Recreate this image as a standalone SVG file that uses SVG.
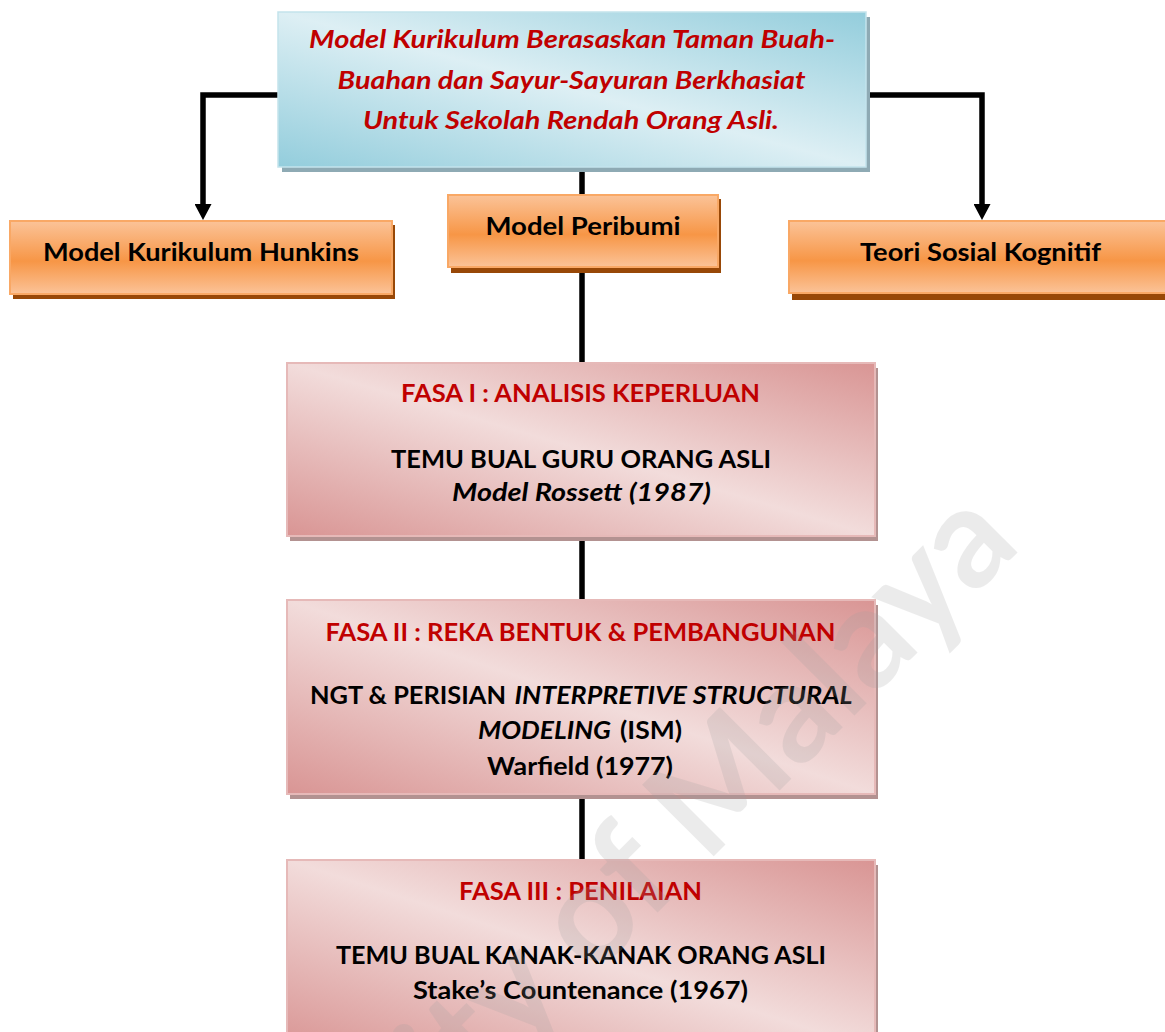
<svg xmlns="http://www.w3.org/2000/svg" width="1165" height="1032" viewBox="0 0 1165 1032">
  <defs>
    <!-- diagonal two-tone fills: dark corners bottom-left / top-right, light band through the middle -->
    <linearGradient id="gBlue" x1="0" y1="1" x2="1" y2="0">
      <stop offset="0" stop-color="#93cddc"/>
      <stop offset="0.5" stop-color="#ddeff4"/>
      <stop offset="1" stop-color="#93cddc"/>
    </linearGradient>
    <linearGradient id="gPink" x1="0" y1="1" x2="1" y2="0">
      <stop offset="0" stop-color="#d99594"/>
      <stop offset="0.5" stop-color="#f2dcdb"/>
      <stop offset="1" stop-color="#d99594"/>
    </linearGradient>
    <linearGradient id="gOrange" x1="0" y1="0" x2="0" y2="1">
      <stop offset="0" stop-color="#fbc398"/>
      <stop offset="0.55" stop-color="#f79646"/>
      <stop offset="1" stop-color="#fbc398"/>
    </linearGradient>
    <marker id="arrow" markerUnits="userSpaceOnUse" viewBox="0 0 16 17" markerWidth="16" markerHeight="17" refX="0" refY="8.5" orient="auto">
      <path d="M0,0 L16,8.5 L0,17 Z" fill="#000"/>
    </marker>
    <style>
      .wire { fill: none; stroke: #000; stroke-width: 5.5; stroke-linejoin: miter; }
      .box-blue { fill: url(#gBlue); stroke: #c3e3ec; stroke-width: 1.5; }
      .sh-blue { fill: #8eaab4; }
      .box-orange { fill: url(#gOrange); stroke: #f9a865; stroke-width: 2; }
      .sh-orange { fill: #984807; }
      .box-pink { fill: url(#gPink); stroke: #e6b9b8; stroke-width: 2; }
      .sh-pink { fill: #b39291; }
      text { font-family: Lato, "Open Sans", "Liberation Sans", sans-serif; font-weight: 700; font-size: 25px; }
      .mid { text-anchor: middle; }
      .red { fill: #c00000; }
      .blk { fill: #000; }
      .it { font-style: italic; }
      .mark { font-weight: 700; font-size: 140px; fill: #a0a0a0; opacity: 0.2; }
    </style>
  </defs>

  <rect width="1165" height="1032" fill="#fff"/>

  <!-- connectors -->
  <g id="connectors">
    <path class="wire" d="M280,95 H203 V204" marker-end="url(#arrow)"/>
    <path class="wire" d="M864,95 H982 V204" marker-end="url(#arrow)"/>
    <path class="wire" d="M582,168 V862"/>
  </g>

  <!-- main title -->
  <g id="node-title">
    <rect class="sh-blue" x="282" y="17" width="588" height="155"/>
    <rect class="box-blue" x="278" y="12" width="588" height="155"/>
    <text class="mid red it" x="572" y="48" textLength="526" lengthAdjust="spacingAndGlyphs">Model Kurikulum Berasaskan Taman Buah-</text>
    <text class="mid red it" x="571.5" y="89" textLength="468" lengthAdjust="spacingAndGlyphs">Buahan dan Sayur-Sayuran Berkhasiat</text>
    <text class="mid red it" x="571" y="129" textLength="416" lengthAdjust="spacingAndGlyphs">Untuk Sekolah Rendah Orang Asli.</text>
  </g>

  <!-- foundations -->
  <g id="node-hunkins">
    <rect class="sh-orange" x="13" y="225" width="382" height="74"/>
    <rect class="box-orange" x="10" y="221" width="382" height="73"/>
    <text class="mid blk" x="201" y="261" textLength="316" lengthAdjust="spacingAndGlyphs">Model Kurikulum Hunkins</text>
  </g>

  <g id="node-peribumi">
    <rect class="sh-orange" x="451" y="199" width="270" height="74"/>
    <rect class="box-orange" x="448" y="195" width="270" height="72"/>
    <text class="mid blk" x="583" y="235" textLength="195" lengthAdjust="spacingAndGlyphs">Model Peribumi</text>
  </g>

  <g id="node-teori">
    <rect class="sh-orange" x="792" y="225" width="384" height="75"/>
    <rect class="box-orange" x="789" y="221" width="384" height="72"/>
    <text class="mid blk" x="980.5" y="261" textLength="241" lengthAdjust="spacingAndGlyphs">Teori Sosial Kognitif</text>
  </g>

  <!-- phases -->
  <g id="node-fasa1">
    <rect class="sh-pink" x="290" y="368" width="588" height="173"/>
    <rect class="box-pink" x="287" y="363" width="588" height="173"/>
    <text class="mid red" x="580.5" y="402" textLength="359" lengthAdjust="spacingAndGlyphs">FASA I : ANALISIS KEPERLUAN</text>
    <text class="mid blk" x="581" y="468" textLength="380" lengthAdjust="spacingAndGlyphs">TEMU BUAL GURU ORANG ASLI</text>
    <text class="mid blk it" x="581.5" y="501" textLength="259" lengthAdjust="spacingAndGlyphs">Model Rossett (1987)</text>
  </g>

  <g id="node-fasa2">
    <rect class="sh-pink" x="290" y="605" width="588" height="194"/>
    <rect class="box-pink" x="287" y="600" width="588" height="194"/>
    <text class="mid red" x="580.5" y="641" textLength="510" lengthAdjust="spacingAndGlyphs">FASA II : REKA BENTUK &amp; PEMBANGUNAN</text>
    <text class="blk" x="310" y="704" textLength="196" lengthAdjust="spacingAndGlyphs">NGT &amp; PERISIAN</text>
    <text class="blk it" x="514.5" y="704" textLength="338" lengthAdjust="spacingAndGlyphs">INTERPRETIVE STRUCTURAL</text>
    <text class="blk it" x="478" y="739" textLength="133" lengthAdjust="spacingAndGlyphs">MODELING</text>
    <text class="blk" x="620" y="739" textLength="62" lengthAdjust="spacingAndGlyphs">(ISM)</text>
    <text class="mid blk" x="580" y="775" textLength="186" lengthAdjust="spacingAndGlyphs">Warfield (1977)</text>
  </g>

  <g id="node-fasa3">
    <rect class="sh-pink" x="290" y="865" width="588" height="190"/>
    <rect class="box-pink" x="287" y="860" width="588" height="190"/>
    <text class="mid red" x="580.5" y="900" textLength="243" lengthAdjust="spacingAndGlyphs">FASA III : PENILAIAN</text>
    <text class="mid blk" x="581" y="964" textLength="490" lengthAdjust="spacingAndGlyphs">TEMU BUAL KANAK-KANAK ORANG ASLI</text>
    <text class="mid blk" x="580.5" y="999" textLength="335" lengthAdjust="spacingAndGlyphs">Stake’s Countenance (1967)</text>
  </g>

  <!-- repository watermark -->
  <g id="watermark">
    <text class="mark" transform="translate(1023,547) rotate(-45)" x="0" y="0" text-anchor="end">University of Malaya</text>
  </g>
</svg>
